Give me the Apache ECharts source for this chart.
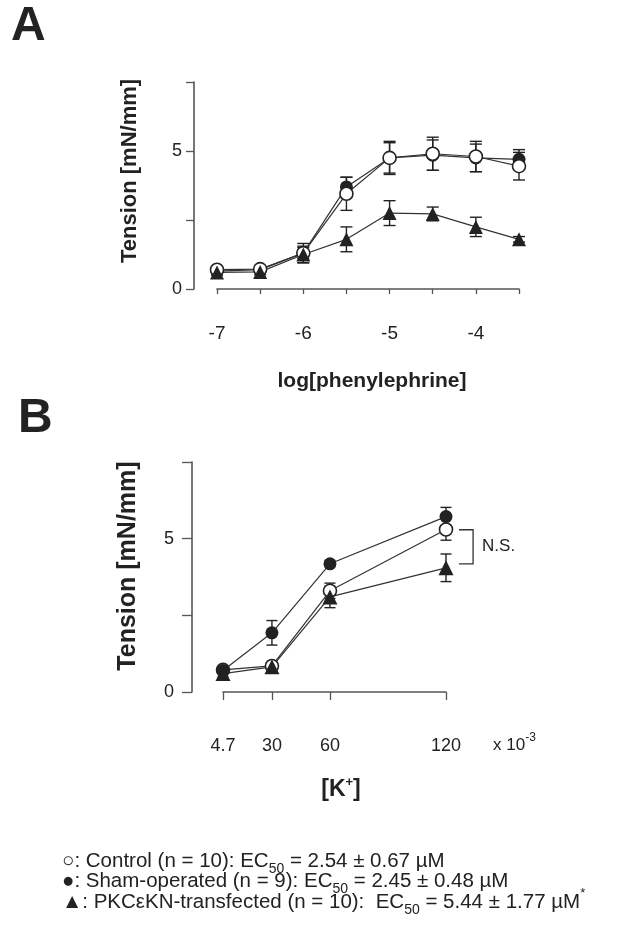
<!DOCTYPE html>
<html>
<head>
<meta charset="utf-8">
<script src="https://cdn.jsdelivr.net/npm/echarts@6/dist/echarts.min.js"></script>
<style>
  html, body { margin: 0; padding: 0; background: #fff; }
  #main { width: 624px; height: 947px; }
</style>
</head>
<body>
<div id="main"></div>
<script>
  // panel A: phenylephrine dose response
  var phe = [-7, -6.5, -6, -5.5, -5, -4.5, -4, -3.5];
  var controlA = [0.7, 0.72, 1.3, 3.45, 4.75, 4.9, 4.8, 4.45];
  var controlAErr = [0.1, 0.1, 0.35, 0.6, 0.6, 0.6, 0.55, 0.5];
  var shamA = [0.65, 0.7, 1.3, 3.7, 4.75, 4.85, 4.75, 4.7];
  var shamAErr = [0.1, 0.1, 0.2, 0.35, 0.55, 0.55, 0.5, 0.35];
  var pkcA = [0.6, 0.62, 1.25, 1.8, 2.75, 2.72, 2.25, 1.8];
  var pkcAErr = [0.1, 0.1, 0.3, 0.45, 0.45, 0.25, 0.35, 0.1];

  // panel B: KCl
  var kcl = [4.7, 30, 60, 120];
  var controlB = [0.72, 0.85, 3.3, 5.3];
  var controlBErr = [0.1, 0.1, 0.25, 0.35];
  var shamB = [0.7, 1.93, 4.18, 5.72];
  var shamBErr = [0.1, 0.4, 0.1, 0.3];
  var pkcB = [0.6, 0.82, 3.1, 4.05];
  var pkcBErr = [0.1, 0.1, 0.35, 0.45];

  // N.S. bracket (x in mM, y in mN/mm)
  var nsX = [126.7, 134];
  var nsY = [5.29, 4.18];

  var yTicks = [0, 5];
  var fontFam = '"Liberation Sans", Arial, "DejaVu Sans", sans-serif';
  var ink = '#222';

  function pairs(xs, ys) {
    return xs.map(function (x, i) { return [x, ys[i]]; });
  }

  function errSeries(idx, xs, ys, errs, capW) {
    return {
      type: 'custom',
      xAxisIndex: idx,
      yAxisIndex: idx,
      z: 1,
      silent: true,
      clip: false,
      data: xs.map(function (x, i) { return [x, ys[i] - errs[i], ys[i] + errs[i]]; }),
      renderItem: function (params, api) {
        var lo = api.coord([api.value(0), api.value(1)]);
        var hi = api.coord([api.value(0), api.value(2)]);
        var st = { stroke: ink, lineWidth: 1.4 };
        return {
          type: 'group',
          children: [
            { type: 'line', shape: { x1: lo[0], y1: lo[1], x2: hi[0], y2: hi[1] }, style: st },
            { type: 'line', shape: { x1: lo[0] - capW / 2, y1: lo[1], x2: lo[0] + capW / 2, y2: lo[1] }, style: st },
            { type: 'line', shape: { x1: hi[0] - capW / 2, y1: hi[1], x2: hi[0] + capW / 2, y2: hi[1] }, style: st }
          ]
        };
      }
    };
  }

  function lineSeries(idx, xs, ys, symbol, size, fill) {
    return {
      type: 'line',
      xAxisIndex: idx,
      yAxisIndex: idx,
      z: 3,
      data: pairs(xs, ys),
      symbol: symbol,
      symbolSize: size,
      showSymbol: true,
      clip: false,
      lineStyle: { color: '#333', width: 1.2 },
      itemStyle: { color: fill, borderColor: ink, borderWidth: fill === '#fff' ? 1.6 : 0, opacity: 1 }
    };
  }

  function yAx(idx, offset, tickLen, margin) {
    return {
      gridIndex: idx,
      type: 'value',
      min: 0, max: 7.5, interval: 2.5,
      offset: offset,
      axisLine: { show: true, lineStyle: { color: '#555', width: 1.6 } },
      axisTick: { show: true, length: tickLen, lineStyle: { color: '#555', width: 1.3 } },
      splitLine: { show: false },
      axisLabel: {
        margin: margin, color: ink, fontSize: 18, fontFamily: fontFam,
        formatter: function (v) { return yTicks.indexOf(v) >= 0 ? String(v) : ''; }
      }
    };
  }

  var chart = echarts.init(document.getElementById('main'), null, { renderer: 'canvas' });

  var legendRich = {
    sub: { font: '14px ' + fontFam, fill: ink, verticalAlign: 'bottom', lineHeight: 30 },
    sup: { font: '13px ' + fontFam, fill: ink, verticalAlign: 'top', lineHeight: 28 }
  };

  var option = {
    animation: false,
    backgroundColor: '#fff',
    grid: [
      { left: 217, width: 302, top: 82, height: 207 },
      { left: 223, width: 223, top: 462, height: 230 }
    ],
    xAxis: [
      {
        gridIndex: 0, type: 'value', min: -7, max: -3.5, interval: 0.5,
        offset: 24,
        axisLine: { show: true, lineStyle: { color: '#555', width: 1.6 } },
        axisTick: { show: true, length: 5, lineStyle: { color: '#555', width: 1.3 } },
        splitLine: { show: false },
        axisLabel: {
          margin: 11, color: ink, fontSize: 19, fontFamily: fontFam,
          showMinLabel: true, showMaxLabel: true,
          formatter: function (v) { return Number.isInteger(v) ? String(v) : ''; }
        }
      },
      {
        gridIndex: 1, type: 'value', min: 4.7, max: 120,
        offset: 33,
        axisLine: { show: true, lineStyle: { color: '#555', width: 1.6 } },
        axisTick: { show: true, length: 8, customValues: kcl, lineStyle: { color: '#555', width: 1.3 } },
        splitLine: { show: false },
        axisLabel: {
          margin: 12, color: ink, fontSize: 18, fontFamily: fontFam,
          customValues: kcl
        }
      }
    ],
    yAxis: [yAx(0, 23, 8, 12), yAx(1, 31, 10, 18)],
    series: [
      errSeries(0, phe, shamA, shamAErr, 12),
      errSeries(0, phe, controlA, controlAErr, 12),
      errSeries(0, phe, pkcA, pkcAErr, 12),
      lineSeries(0, phe, shamA, 'circle', 13, ink),
      lineSeries(0, phe, controlA, 'circle', 13, '#fff'),
      lineSeries(0, phe, pkcA, 'triangle', 14, ink),

      errSeries(1, kcl, controlB, controlBErr, 11),
      errSeries(1, kcl, shamB, shamBErr, 11),
      errSeries(1, kcl, pkcB, pkcBErr, 11),
      lineSeries(1, kcl, controlB, 'circle', 13, '#fff'),
      lineSeries(1, kcl, shamB, 'circle', 13, ink),
      lineSeries(1, kcl, pkcB, 'triangle', 15, ink),

      {
        type: 'custom', xAxisIndex: 1, yAxisIndex: 1, clip: false, silent: true,
        data: [[nsX[0], nsX[1], nsY[0], nsY[1]]],
        renderItem: function (params, api) {
          var a = api.coord([api.value(0), api.value(2)]);
          var b = api.coord([api.value(1), api.value(2)]);
          var c = api.coord([api.value(1), api.value(3)]);
          var d = api.coord([api.value(0), api.value(3)]);
          return {
            type: 'group',
            children: [
              { type: 'polyline', shape: { points: [a, b, c, d] }, style: { stroke: '#333', lineWidth: 1.3, fill: null } },
              { type: 'text', x: b[0] + 9, y: (b[1] + c[1]) / 2,
                style: { text: 'N.S.', font: '17px ' + fontFam, fill: ink, verticalAlign: 'middle', align: 'left' } }
            ]
          };
        }
      }
    ],
    graphic: [
      { type: 'text', left: 11, top: 3, style: { text: 'A', font: 'bold 48px ' + fontFam, fill: ink } },
      { type: 'text', left: 18, top: 395, style: { text: 'B', font: 'bold 48px ' + fontFam, fill: ink } },
      { type: 'text', x: 130, y: 171, rotation: Math.PI / 2,
        style: { text: 'Tension [mN/mm]', font: 'bold 22px ' + fontFam, fill: ink, align: 'center', verticalAlign: 'middle' } },
      { type: 'text', x: 128, y: 566, rotation: Math.PI / 2,
        style: { text: 'Tension [mN/mm]', font: 'bold 25px ' + fontFam, fill: ink, align: 'center', verticalAlign: 'middle' } },
      { type: 'text', x: 372, y: 381,
        style: { text: 'log[phenylephrine]', font: 'bold 21px ' + fontFam, fill: ink, align: 'center', verticalAlign: 'middle' } },
      { type: 'text', x: 341, y: 790,
        style: {
          text: '[K{sup|+}]', font: 'bold 23px ' + fontFam, fill: ink, align: 'center', verticalAlign: 'middle',
          rich: {
            sup: { font: 'bold 13px ' + fontFam, fill: ink, verticalAlign: 'top', lineHeight: 28 }
          },
          lineHeight: 28
        } },
      { type: 'text', x: 493, y: 745,
        style: {
          text: 'x 10{sup|-3}', font: '17px ' + fontFam, fill: ink, align: 'left', verticalAlign: 'middle',
          lineHeight: 26,
          rich: { sup: { font: '12px ' + fontFam, fill: ink, verticalAlign: 'top', lineHeight: 26 } }
        } },
      { type: 'text', x: 62, y: 861,
        style: {
          text: '\u25CB: Control (n = 10): EC{sub|50} = 2.54 \u00B1 0.67 \u00B5M',
          font: '20.5px ' + fontFam, fill: ink, align: 'left', verticalAlign: 'middle', lineHeight: 28,
          rich: legendRich
        } },
      { type: 'text', x: 62, y: 881,
        style: {
          text: '\u25CF: Sham-operated (n = 9): EC{sub|50} = 2.45 \u00B1 0.48 \u00B5M',
          font: '20.5px ' + fontFam, fill: ink, align: 'left', verticalAlign: 'middle', lineHeight: 28,
          rich: legendRich
        } },
      { type: 'text', x: 62, y: 902,
        style: {
          text: '\u25B2: PKC\u03B5KN-transfected (n = 10):  EC{sub|50} = 5.44 \u00B1 1.77 \u00B5M{sup|*}',
          font: '20.5px ' + fontFam, fill: ink, align: 'left', verticalAlign: 'middle', lineHeight: 28,
          rich: legendRich
        } }
    ]
  };

  chart.setOption(option);
</script>
</body>
</html>
